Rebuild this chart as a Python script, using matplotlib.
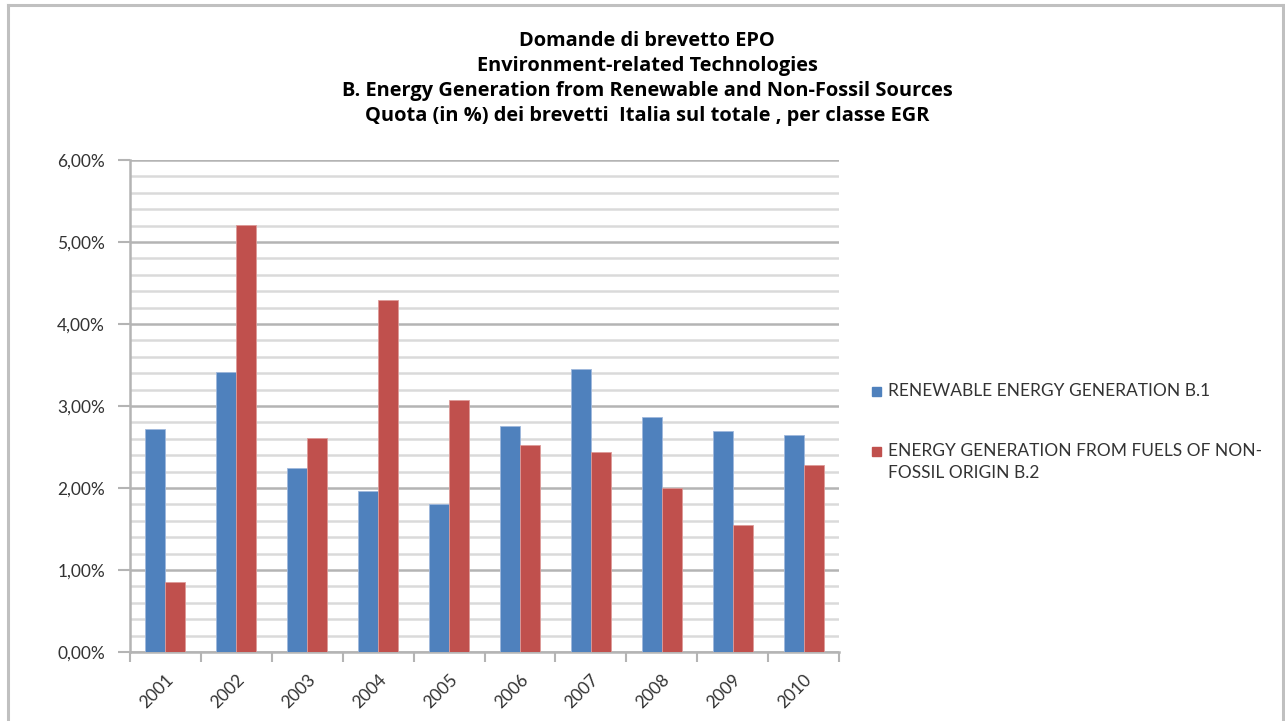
import matplotlib
matplotlib.use("Agg")
import matplotlib.pyplot as plt
from matplotlib.patches import Rectangle
from matplotlib.lines import Line2D
from matplotlib.ticker import MultipleLocator, FuncFormatter
import numpy as np

years = ["2001", "2002", "2003", "2004", "2005", "2006", "2007", "2008", "2009", "2010"]
renewable_b1 = [2.72, 3.41, 2.25, 1.96, 1.81, 2.76, 3.45, 2.86, 2.70, 2.65]
nonfossil_b2 = [0.85, 5.21, 2.61, 4.29, 3.07, 2.52, 2.44, 2.00, 1.55, 2.28]
series_names = ["RENEWABLE ENERGY GENERATION B.1",
                "ENERGY GENERATION FROM FUELS OF NON-\nFOSSIL ORIGIN B.2"]
colors = ["#4F81BD", "#C0504D"]
title_lines = ["Domande di brevetto EPO",
               "Environment-related Technologies",
               "B. Energy Generation from Renewable and Non-Fossil Sources",
               "Quota (in %) dei brevetti  Italia sul totale , per classe EGR"]

FONT = ["Lato", "DejaVu Sans"]
plt.rcParams['font.family'] = FONT

W, H = 1285, 721
fig = plt.figure(figsize=(W / 100, H / 100), dpi=100)
fig.patch.set_facecolor("white")

# outer frame (top, left, right)
for xs, ys in [([8 / W, 1283 / W], [1 - 4.5 / H, 1 - 4.5 / H]),
               ([8 / W, 8 / W], [0, 1 - 4.5 / H]),
               ([1283 / W, 1283 / W], [0, 1 - 4.5 / H])]:
    fig.add_artist(Line2D(xs, ys, color="#c0c0c0", lw=2.2, transform=fig.transFigure))

ax = fig.add_axes([130 / W, 1 - 652 / H, 709 / W, 492 / H])
x = np.arange(len(years))
bw = 0.282
ax.bar(x - bw / 2, renewable_b1, width=bw, color=colors[0], edgecolor="#9fb8dc", linewidth=0.6, zorder=3)
ax.bar(x + bw / 2, nonfossil_b2, width=bw, color=colors[1], edgecolor="#dd9a98", linewidth=0.6, zorder=3)

ax.set_xlim(-0.5, len(years) - 0.5)
ax.set_ylim(0, 6)
ax.yaxis.set_major_locator(MultipleLocator(1))
ax.yaxis.set_minor_locator(MultipleLocator(0.2))
ax.yaxis.set_major_formatter(FuncFormatter(lambda v, p: f"{v:.2f}".replace(".", ",") + "%"))
ax.grid(which="major", axis="y", color="#b4b4b4", lw=1.8, zorder=0)
ax.grid(which="minor", axis="y", color="#dadada", lw=1.8, zorder=0)

ax.set_xticks(np.arange(-0.5, len(years), 1))
ax.set_xticklabels([])
ax.set_xticks(x, minor=True)
ax.set_xticklabels(years, minor=True, rotation=45, ha="right", va="top",
                   rotation_mode="anchor", fontsize=12.5, color="#333333")
ax.tick_params(axis="x", which="major", length=7, width=1.5, color="#b4b4b4", direction="out")
ax.tick_params(axis="x", which="minor", length=0, pad=14)
ax.tick_params(axis="y", which="major", length=9, width=1.5, color="#b4b4b4",
               labelsize=12.5, labelcolor="#333333", pad=9)
ax.tick_params(axis="y", which="minor", length=0)

for s in ["top", "right"]:
    ax.spines[s].set_visible(False)
for s in ["left", "bottom"]:
    ax.spines[s].set_color("#b4b4b4")
    ax.spines[s].set_linewidth(1.8)
ax.spines["left"].set_zorder(4)

# title
for i, line in enumerate(title_lines):
    fig.text(647 / W, 1 - (41 + 25 * i) / H, line, ha="center", va="center",
             fontsize=14.4, fontweight="bold", color="black",
             family=["Open Sans", "DejaVu Sans"])

# legend
legend_y = [392, 452]
for name, col, yy in zip(series_names, colors, legend_y):
    fig.add_artist(Rectangle((872 / W, 1 - (yy + 4) / H), 9 / W, 9 / H, color=col,
                             transform=fig.transFigure))
    fig.text(888 / W, 1 - (yy - 9) / H, name, ha="left", va="top", fontsize=12.5,
             color="#333333", linespacing=1.5)

fig.savefig("out.png", dpi=100)
